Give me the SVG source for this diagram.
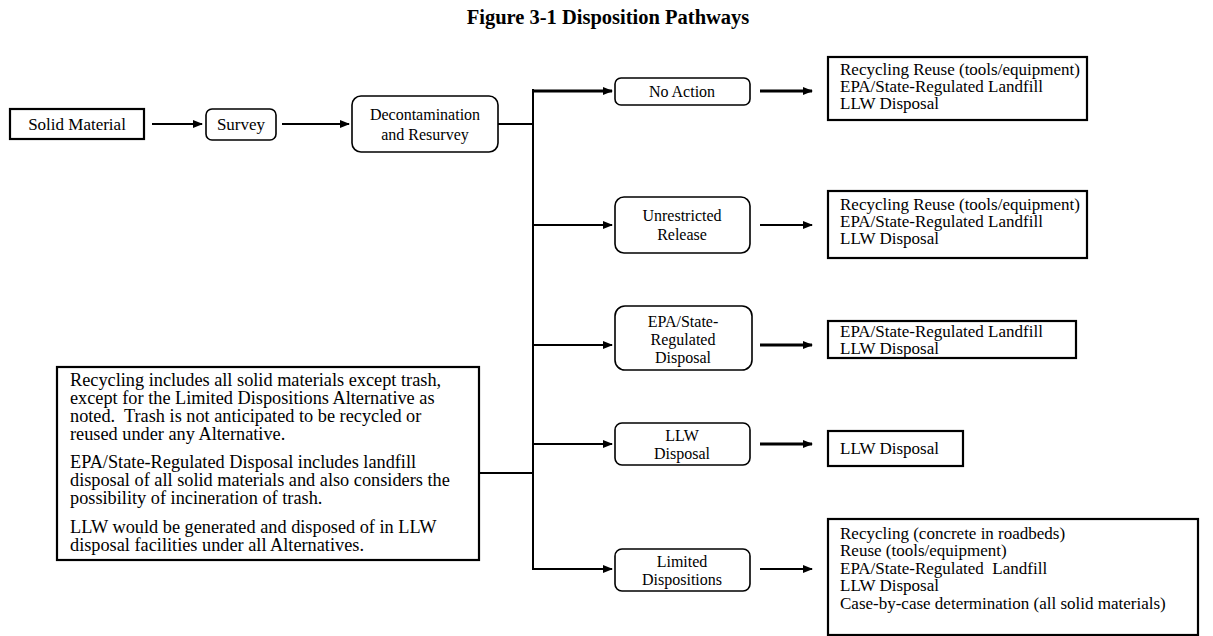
<svg xmlns="http://www.w3.org/2000/svg" width="1213" height="636" viewBox="0 0 1213 636" font-family="'Liberation Serif', Tinos, 'Times New Roman', serif">
<style>
text{font-family:"Liberation Serif",Tinos,"Times New Roman",serif;font-size:17px;fill:#000}
.c{text-anchor:middle}
.t{font-weight:bold;font-size:20.5px}
.n{font-size:18.3px}
.s{font-size:16px}
.sq{fill:#fff;stroke:#000;stroke-width:2.2}
.rd{fill:#fff;stroke:#000;stroke-width:1.6}
.ln{stroke:#000;stroke-width:2;fill:none}
.lt{stroke:#000;stroke-width:3;fill:none}
</style>
<defs>
<marker id="ah" markerWidth="10" markerHeight="8" refX="9" refY="4" orient="auto" markerUnits="userSpaceOnUse">
<path d="M0,0 L10,4 L0,8 z" fill="#000"/>
</marker>
</defs>
<text class="t c" x="608" y="24">Figure 3-1 Disposition Pathways</text>

<g id="connectors">
<line class="ln" x1="152" y1="124" x2="202" y2="124" marker-end="url(#ah)"/>
<line class="ln" x1="282" y1="124" x2="349" y2="124" marker-end="url(#ah)"/>
<line class="ln" x1="498" y1="124" x2="533" y2="124"/>
<line class="ln" x1="533" y1="89" x2="533" y2="570"/>
<line class="lt" x1="532" y1="91" x2="612" y2="91" marker-end="url(#ah)"/>
<line class="ln" x1="533" y1="225" x2="612" y2="225" marker-end="url(#ah)"/>
<line class="ln" x1="533" y1="345" x2="612" y2="345" marker-end="url(#ah)"/>
<line class="ln" x1="533" y1="444" x2="612" y2="444" marker-end="url(#ah)"/>
<line class="ln" x1="533" y1="569" x2="612" y2="569" marker-end="url(#ah)"/>
<line class="ln" x1="479" y1="473" x2="533" y2="473"/>
<line class="lt" x1="760" y1="91" x2="812" y2="91" marker-end="url(#ah)"/>
<line class="ln" x1="760" y1="225" x2="812" y2="225" marker-end="url(#ah)"/>
<line class="lt" x1="760" y1="345" x2="812" y2="345" marker-end="url(#ah)"/>
<line class="lt" x1="760" y1="444" x2="812" y2="444" marker-end="url(#ah)"/>
<line class="ln" x1="760" y1="569" x2="812" y2="569" marker-end="url(#ah)"/>
</g>

<g id="solid"><rect class="sq" x="10" y="109" width="134" height="30"/><text class="c" x="77" y="130">Solid Material</text></g>
<g id="survey"><rect class="rd" x="206" y="109" width="70" height="31" rx="6"/><text class="c" x="241" y="130">Survey</text></g>
<g id="decon"><rect class="rd" x="352" y="96" width="146" height="56" rx="9"/><text class="c s" x="425" y="120">Decontamination</text><text class="c s" x="425" y="140">and Resurvey</text></g>

<g id="noaction"><rect class="rd" x="615" y="78" width="135" height="27" rx="6"/><text class="c s" x="682" y="97">No Action</text></g>
<g id="unrestricted"><rect class="rd" x="615" y="197" width="135" height="56" rx="9"/><text class="c s" x="682" y="221">Unrestricted</text><text class="c s" x="682" y="240">Release</text></g>
<g id="epa"><rect class="rd" x="615" y="306" width="137" height="64" rx="10"/><text class="c s" x="683" y="327">EPA/State-</text><text class="c s" x="683" y="345">Regulated</text><text class="c s" x="683" y="363">Disposal</text></g>
<g id="llw"><rect class="rd" x="615" y="423" width="135" height="42" rx="7"/><text class="c s" x="682" y="441">LLW</text><text class="c s" x="682" y="459">Disposal</text></g>
<g id="limited"><rect class="rd" x="615" y="549" width="135" height="42" rx="7"/><text class="c s" x="682" y="567">Limited</text><text class="c s" x="682" y="585">Dispositions</text></g>

<g id="out1"><rect class="sq" x="828" y="57" width="259" height="63"/>
<text x="840" y="75">Recycling Reuse (tools/equipment)</text><text x="840" y="92">EPA/State-Regulated Landfill</text><text x="840" y="109">LLW Disposal</text></g>
<g id="out2"><rect class="sq" x="828" y="191" width="259" height="67"/>
<text x="840" y="210">Recycling Reuse (tools/equipment)</text><text x="840" y="227">EPA/State-Regulated Landfill</text><text x="840" y="244">LLW Disposal</text></g>
<g id="out3"><rect class="sq" x="828" y="321" width="248" height="37"/>
<text x="840" y="337">EPA/State-Regulated Landfill</text><text x="840" y="354">LLW Disposal</text></g>
<g id="out4"><rect class="sq" x="828" y="431" width="135" height="35"/>
<text x="840" y="454">LLW Disposal</text></g>
<g id="out5"><rect class="sq" x="828" y="519" width="370" height="116"/>
<text x="840" y="539">Recycling (concrete in roadbeds)</text><text x="840" y="556">Reuse (tools/equipment)</text><text x="840" y="574" xml:space="preserve">EPA/State-Regulated  Landfill</text><text x="840" y="591">LLW Disposal</text><text x="840" y="609">Case-by-case determination (all solid materials)</text></g>

<g id="note"><rect class="sq" x="57" y="367" width="422" height="193"/>
<text class="n" x="70" y="386">Recycling includes all solid materials except trash,</text>
<text class="n" x="70" y="404">except for the Limited Dispositions Alternative as</text>
<text class="n" x="70" y="422" xml:space="preserve">noted.  Trash is not anticipated to be recycled or</text>
<text class="n" x="70" y="440">reused under any Alternative.</text>
<text class="n" x="70" y="468">EPA/State-Regulated Disposal includes landfill</text>
<text class="n" x="70" y="486">disposal of all solid materials and also considers the</text>
<text class="n" x="70" y="504">possibility of incineration of trash.</text>
<text class="n" x="70" y="533">LLW would be generated and disposed of in LLW</text>
<text class="n" x="70" y="551">disposal facilities under all Alternatives.</text>
</g>
</svg>
